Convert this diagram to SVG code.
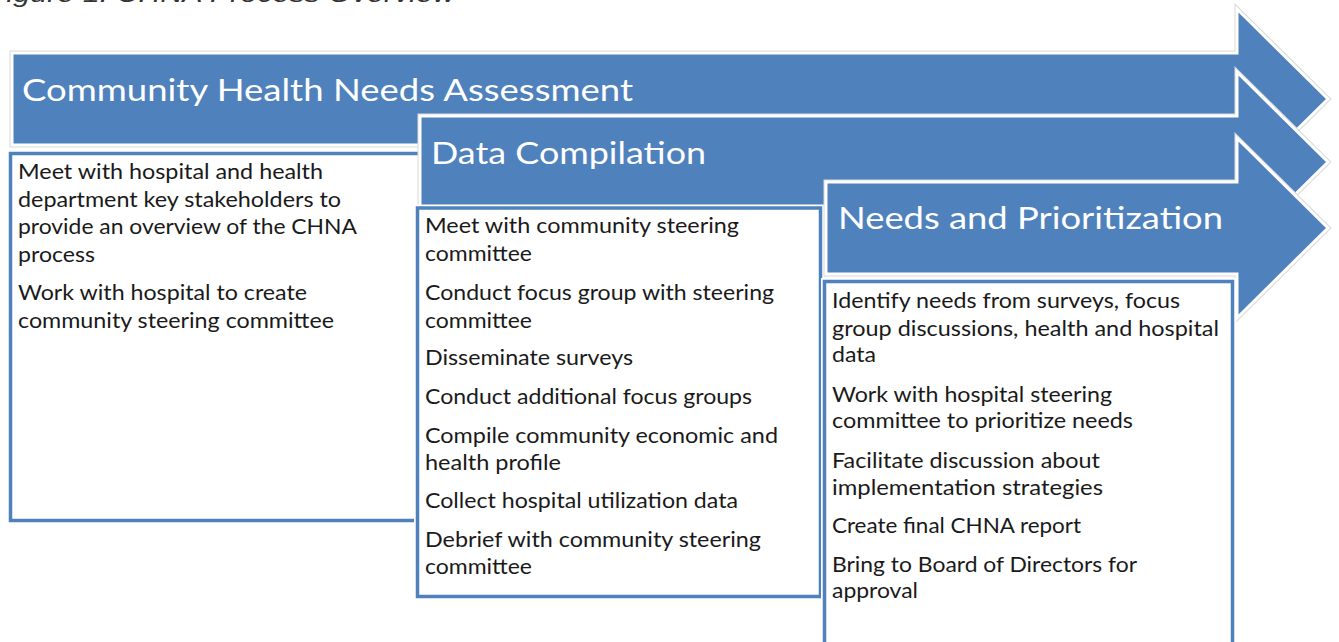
<svg xmlns="http://www.w3.org/2000/svg" width="1339" height="642" viewBox="0 0 1339 642">
<style>
.arrow{fill:#4F81BD;stroke:#ffffff;stroke-width:3;stroke-linejoin:miter}
.halo{fill:none;stroke:#d9d9d9;stroke-width:5}
.box{fill:#ffffff;stroke:#4F81BD;stroke-width:3.5}
.boxhalo{fill:none;stroke:#ffffff;stroke-width:7}
.hdr{font-family:Lato,"Open Sans",sans-serif;font-size:31px;fill:#ffffff}
.body{font-family:Lato,"Open Sans",sans-serif;font-size:21px;fill:#1a1a1a}
.cap{font-family:"Liberation Sans",Arial,sans-serif;font-style:italic;font-size:24px;fill:#333333}
</style>
<rect width="1339" height="642" fill="#ffffff"/>
<text class="cap" x="-12" y="2" textLength="467" lengthAdjust="spacingAndGlyphs">Figure 1: CHNA Process Overview</text>

<g id="stage1">
<path class="halo" d="M12,53 H1237 V9 L1328,99 L1237,189 V145 H12 Z"/>
<path class="arrow" d="M12,53 H1237 V9 L1328,99 L1237,189 V145 H12 Z"/>
<rect class="boxhalo" x="10.5" y="153.5" width="410" height="367"/>
<rect class="box" x="10.5" y="153.5" width="410" height="367"/>
<text class="hdr" x="22" y="101" textLength="611" lengthAdjust="spacingAndGlyphs">Community Health Needs Assessment</text>
<text class="body" x="18" y="179" textLength="305" lengthAdjust="spacingAndGlyphs">Meet with hospital and health</text>
<text class="body" x="18" y="207" textLength="323" lengthAdjust="spacingAndGlyphs">department key stakeholders to</text>
<text class="body" x="18" y="234" textLength="339" lengthAdjust="spacingAndGlyphs">provide an overview of the CHNA</text>
<text class="body" x="18" y="262" textLength="77" lengthAdjust="spacingAndGlyphs">process</text>
<text class="body" x="18" y="300" textLength="289" lengthAdjust="spacingAndGlyphs">Work with hospital to create</text>
<text class="body" x="18" y="328" textLength="316" lengthAdjust="spacingAndGlyphs">community steering committee</text>
</g>

<g id="stage2">
<path class="halo" d="M420,116 H1237 V72 L1328,162 L1237,252 V208 H420 Z"/>
<path class="arrow" d="M420,116 H1237 V72 L1328,162 L1237,252 V208 H420 Z"/>
<rect class="boxhalo" x="417.5" y="208" width="403" height="388.5"/>
<rect class="box" x="417.5" y="208" width="403" height="388.5"/>
<text class="hdr" x="431" y="164" textLength="275" lengthAdjust="spacingAndGlyphs">Data Compilation</text>
<text class="body" x="425" y="233" textLength="314" lengthAdjust="spacingAndGlyphs">Meet with community steering</text>
<text class="body" x="425" y="261" textLength="107" lengthAdjust="spacingAndGlyphs">committee</text>
<text class="body" x="425" y="300" textLength="349" lengthAdjust="spacingAndGlyphs">Conduct focus group with steering</text>
<text class="body" x="425" y="328" textLength="107" lengthAdjust="spacingAndGlyphs">committee</text>
<text class="body" x="425" y="365" textLength="208" lengthAdjust="spacingAndGlyphs">Disseminate surveys</text>
<text class="body" x="425" y="404" textLength="327" lengthAdjust="spacingAndGlyphs">Conduct additional focus groups</text>
<text class="body" x="425" y="443" textLength="353" lengthAdjust="spacingAndGlyphs">Compile community economic and</text>
<text class="body" x="425" y="470" textLength="136" lengthAdjust="spacingAndGlyphs">health profile</text>
<text class="body" x="425" y="508" textLength="313" lengthAdjust="spacingAndGlyphs">Collect hospital utilization data</text>
<text class="body" x="425" y="547" textLength="336" lengthAdjust="spacingAndGlyphs">Debrief with community steering</text>
<text class="body" x="425" y="574" textLength="107" lengthAdjust="spacingAndGlyphs">committee</text>
</g>

<g id="stage3">
<path class="halo" d="M826,182 H1237 V138 L1328,228 L1237,318 V274 H826 Z"/>
<path class="arrow" d="M826,182 H1237 V138 L1328,228 L1237,318 V274 H826 Z"/>
<rect class="boxhalo" x="824.5" y="281.5" width="408" height="380"/>
<rect class="box" x="824.5" y="281.5" width="408" height="380"/>
<text class="hdr" x="838" y="229" textLength="385" lengthAdjust="spacingAndGlyphs">Needs and Prioritization</text>
<text class="body" x="832" y="308" textLength="348" lengthAdjust="spacingAndGlyphs">Identify needs from surveys, focus</text>
<text class="body" x="832" y="336" textLength="387" lengthAdjust="spacingAndGlyphs">group discussions, health and hospital</text>
<text class="body" x="832" y="362" textLength="44" lengthAdjust="spacingAndGlyphs">data</text>
<text class="body" x="832" y="402" textLength="280" lengthAdjust="spacingAndGlyphs">Work with hospital steering</text>
<text class="body" x="832" y="428" textLength="301" lengthAdjust="spacingAndGlyphs">committee to prioritize needs</text>
<text class="body" x="832" y="468" textLength="268" lengthAdjust="spacingAndGlyphs">Facilitate discussion about</text>
<text class="body" x="832" y="495" textLength="271" lengthAdjust="spacingAndGlyphs">implementation strategies</text>
<text class="body" x="832" y="533" textLength="249" lengthAdjust="spacingAndGlyphs">Create final CHNA report</text>
<text class="body" x="832" y="572" textLength="305" lengthAdjust="spacingAndGlyphs">Bring to Board of Directors for</text>
<text class="body" x="832" y="598" textLength="86" lengthAdjust="spacingAndGlyphs">approval</text>
</g>
</svg>
